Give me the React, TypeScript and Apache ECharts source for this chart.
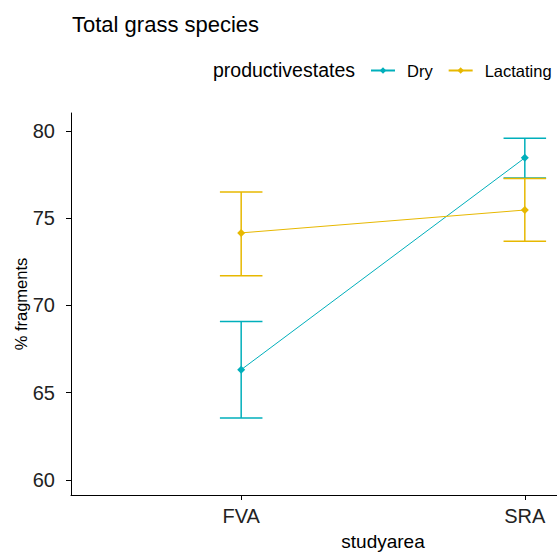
import React, { useEffect, useRef } from "react";
import * as echarts from "echarts";

const categories = ["FVA", "SRA"];
const seriesNames = ["Dry", "Lactating"];
const dryMean = [66.32, 78.46];
const dryLow = [63.55, 77.3];
const dryHigh = [69.08, 79.58];
const lacMean = [74.16, 75.47];
const lacLow = [71.7, 73.68];
const lacHigh = [76.5, 77.28];
const yTicks = [60, 65, 70, 75, 80];
const colors = ["#00AFBB", "#E7B800"];

const FONT = "'Liberation Sans', Arial, sans-serif";

export default function App() {
  const ref = useRef<HTMLDivElement>(null);
  useEffect(() => {
    if (!ref.current) return;
    const chart = echarts.init(ref.current, undefined, { renderer: "svg" });
    const xs = categories.map((_, i) => i + 1);
    const means = [dryMean, lacMean];
    const lows = [dryLow, lacLow];
    const highs = [dryHigh, lacHigh];

    const errSeries = seriesNames.map((n, si) => ({
      type: "custom",
      name: n + " SE",
      data: xs.map((x, i) => [x, lows[si][i], highs[si][i]]),
      encode: { x: 0, y: [1, 2] },
      z: 2,
      renderItem: (params: any, api: any) => {
        const x = api.value(0);
        const lo = api.value(1);
        const hi = api.value(2);
        const pLo = api.coord([x, lo]);
        const pHi = api.coord([x, hi]);
        const hw = api.coord([x + 0.075, lo])[0] - pLo[0];
        const style = { stroke: colors[si], lineWidth: 1.5, fill: "none" };
        return {
          type: "group",
          children: [
            { type: "line", shape: { x1: pLo[0], y1: pLo[1], x2: pHi[0], y2: pHi[1] }, style },
            { type: "line", shape: { x1: pLo[0] - hw, y1: pLo[1], x2: pLo[0] + hw, y2: pLo[1] }, style },
            { type: "line", shape: { x1: pHi[0] - hw, y1: pHi[1], x2: pHi[0] + hw, y2: pHi[1] }, style },
          ],
        };
      },
    }));

    const lineSeries = seriesNames.map((n, si) => ({
      type: "line",
      name: n,
      data: xs.map((x, i) => [x, means[si][i]]),
      symbol: "diamond",
      symbolSize: 8,
      z: 3,
      lineStyle: { color: colors[si], width: 1 },
      itemStyle: { color: colors[si] },
    }));

    chart.setOption({
      animation: false,
      backgroundColor: "#ffffff",
      title: {
        text: "Total grass species",
        left: 67,
        top: 8,
        textStyle: { fontFamily: FONT, fontSize: 22, fontWeight: "normal", color: "#000" },
      },
      legend: {
        data: seriesNames,
        left: 365,
        top: 57,
        itemWidth: 24,
        itemHeight: 8,
        itemGap: 15,
        textStyle: { fontFamily: FONT, fontSize: 16.5, color: "#000", padding: [0, 0, 0, 7] },
      },
      graphic: [
        {
          type: "text",
          left: 213,
          top: 60,
          style: { text: "productivestates", font: `19.5px ${FONT}`, fill: "#000" },
        },
      ],
      grid: { left: 71, right: 15, top: 113, bottom: 61, outerBoundsMode: "none", containLabel: false },
      xAxis: {
        type: "value",
        min: 0.4,
        max: 2.6,
        name: "studyarea",
        nameLocation: "middle",
        nameGap: 37,
        nameMoveOverlap: false,
        nameTextStyle: { fontFamily: FONT, fontSize: 19, color: "#000" },
        axisLine: { show: true, lineStyle: { color: "#000", width: 1 } },
        axisTick: { show: true, customValues: xs, length: 5, lineStyle: { color: "#000" } },
        axisLabel: {
          customValues: xs,
          formatter: (v: number) => categories[Math.round(v) - 1] ?? "",
          margin: 11,
          fontFamily: FONT,
          fontSize: 20,
          color: "#222",
        },
        splitLine: { show: false },
      },
      yAxis: {
        type: "value",
        min: 59.14,
        max: 81.03,
        name: "% fragments",
        nameLocation: "middle",
        nameGap: 42,
        nameMoveOverlap: false,
        nameTextStyle: { fontFamily: FONT, fontSize: 16.5, color: "#000" },
        axisLine: { show: true, lineStyle: { color: "#000", width: 1 } },
        axisTick: { show: true, customValues: yTicks, length: 5, lineStyle: { color: "#000" } },
        axisLabel: { customValues: yTicks, margin: 16, fontFamily: FONT, fontSize: 20, color: "#222" },
        splitLine: { show: false },
      },
      series: [...errSeries, ...lineSeries],
    });
    return () => chart.dispose();
  }, []);

  return (
    <div style={{ position: "fixed", left: 0, top: 0, width: 557, height: 556, overflow: "hidden", background: "#fff" }}>
      <div ref={ref} style={{ width: 710, height: 556 }} />
    </div>
  );
}
